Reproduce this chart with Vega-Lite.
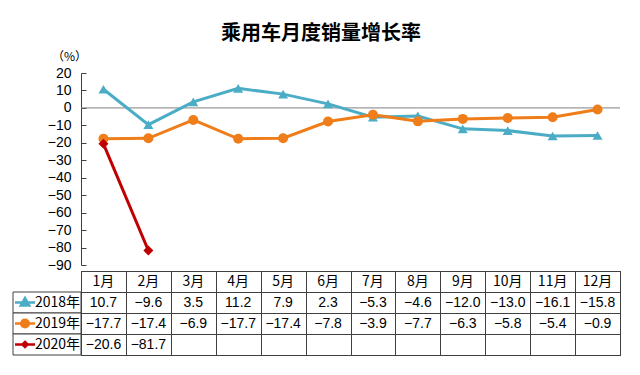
{
  "$schema": "https://vega.github.io/schema/vega-lite/v6.json",
  "padding": {"left": 9, "top": 24, "right": 5, "bottom": 5},
  "title": {"text": "乘用车月度销量增长率", "fontSize": 20, "fontWeight": "bold", "font": "Noto Sans CJK SC", "color": "#000000", "anchor": "middle", "frame": "bounds", "offset": 6, "dx": 6},
  "datasets": {
    "s": [
      {"year": "2018年", "month": "1月", "value": 10.7},
      {"year": "2018年", "month": "2月", "value": -9.6},
      {"year": "2018年", "month": "3月", "value": 3.5},
      {"year": "2018年", "month": "4月", "value": 11.2},
      {"year": "2018年", "month": "5月", "value": 7.9},
      {"year": "2018年", "month": "6月", "value": 2.3},
      {"year": "2018年", "month": "7月", "value": -5.3},
      {"year": "2018年", "month": "8月", "value": -4.6},
      {"year": "2018年", "month": "9月", "value": -12.0},
      {"year": "2018年", "month": "10月", "value": -13.0},
      {"year": "2018年", "month": "11月", "value": -16.1},
      {"year": "2018年", "month": "12月", "value": -15.8},
      {"year": "2019年", "month": "1月", "value": -17.7},
      {"year": "2019年", "month": "2月", "value": -17.4},
      {"year": "2019年", "month": "3月", "value": -6.9},
      {"year": "2019年", "month": "4月", "value": -17.7},
      {"year": "2019年", "month": "5月", "value": -17.4},
      {"year": "2019年", "month": "6月", "value": -7.8},
      {"year": "2019年", "month": "7月", "value": -3.9},
      {"year": "2019年", "month": "8月", "value": -7.7},
      {"year": "2019年", "month": "9月", "value": -6.3},
      {"year": "2019年", "month": "10月", "value": -5.8},
      {"year": "2019年", "month": "11月", "value": -5.4},
      {"year": "2019年", "month": "12月", "value": -0.9},
      {"year": "2020年", "month": "1月", "value": -20.6},
      {"year": "2020年", "month": "2月", "value": -81.7}
    ],
    "m": [
      {"month": "1月"}, {"month": "2月"}, {"month": "3月"}, {"month": "4月"},
      {"month": "5月"}, {"month": "6月"}, {"month": "7月"}, {"month": "8月"},
      {"month": "9月"}, {"month": "10月"}, {"month": "11月"}, {"month": "12月"}
    ],
    "y": [{"year": "2018年"}, {"year": "2019年"}, {"year": "2020年"}]
  },
  "vconcat": [
    {
      "width": 539,
      "height": 192,
      "layer": [
        {
          "data": {"values": [{}]},
          "mark": {"type": "rule", "color": "#808080", "strokeWidth": 1},
          "encoding": {
            "y": {"datum": 0, "type": "quantitative", "scale": {"domain": [-90, 20], "nice": false, "zero": false},
              "axis": {"title": "（%）", "values": [20, 10, 0, -10, -20, -30, -40, -50, -60, -70, -80, -90]}}
          }
        },
        {
          "data": {"name": "s"},
          "encoding": {
            "x": {"field": "month", "type": "ordinal", "scale": {"type": "band", "domain": ["1月","2月","3月","4月","5月","6月","7月","8月","9月","10月","11月","12月"], "paddingInner": 0, "paddingOuter": 0}, "axis": null},
            "y": {"field": "value", "type": "quantitative", "scale": {"domain": [-90, 20], "nice": false, "zero": false},
              "axis": {"title": "（%）", "values": [20, 10, 0, -10, -20, -30, -40, -50, -60, -70, -80, -90]}},
            "color": {"field": "year", "type": "nominal", "scale": {"domain": ["2018年", "2019年", "2020年"], "range": ["#4bacc6", "#ee7d1a", "#c00000"]}, "legend": null}
          },
          "layer": [
            {"mark": {"type": "line", "strokeWidth": 3}},
            {
              "mark": {"type": "point", "filled": true, "opacity": 1, "size": 100},
              "encoding": {
                "shape": {"field": "year", "type": "nominal", "scale": {"domain": ["2018年", "2019年", "2020年"], "range": ["triangle-up", "circle", "diamond"]}, "legend": null}
              }
            }
          ]
        }
      ]
    },
    {
      "width": 539,
      "height": 84,
      "view": {"stroke": "#404040", "strokeWidth": 1},
      "layer": [
        {
          "data": {"name": "m"},
          "mark": {"type": "text", "fontSize": 14, "font": "Noto Sans CJK SC", "color": "#000000"},
          "encoding": {
            "x": {"field": "month", "type": "ordinal", "scale": {"type": "band", "domain": ["1月","2月","3月","4月","5月","6月","7月","8月","9月","10月","11月","12月"], "paddingInner": 0, "paddingOuter": 0},
              "axis": {"grid": true, "tickBand": "extent", "labels": false, "ticks": false, "domain": false, "title": null, "gridColor": "#404040", "gridOpacity": 1, "gridWidth": 1}},
            "y": {"datum": "月份", "type": "nominal", "scale": {"type": "band", "domain": ["月份", "2018年", "2019年", "2020年"], "paddingInner": 0, "paddingOuter": 0},
              "axis": {"grid": true, "tickBand": "extent", "labels": false, "ticks": false, "domain": false, "title": null, "gridColor": "#404040", "gridOpacity": 1, "gridWidth": 1}},
            "text": {"field": "month"}
          }
        },
        {
          "data": {"name": "s"},
          "mark": {"type": "text", "fontSize": 14, "font": "Liberation Sans", "color": "#000000"},
          "encoding": {
            "x": {"field": "month", "type": "ordinal", "scale": {"type": "band", "domain": ["1月","2月","3月","4月","5月","6月","7月","8月","9月","10月","11月","12月"], "paddingInner": 0, "paddingOuter": 0},
              "axis": {"grid": true, "tickBand": "extent", "labels": false, "ticks": false, "domain": false, "title": null, "gridColor": "#404040", "gridOpacity": 1, "gridWidth": 1}},
            "y": {"field": "year", "type": "nominal", "scale": {"type": "band", "domain": ["月份", "2018年", "2019年", "2020年"], "paddingInner": 0, "paddingOuter": 0},
              "axis": {"grid": true, "tickBand": "extent", "labels": false, "ticks": false, "domain": false, "title": null, "gridColor": "#404040", "gridOpacity": 1, "gridWidth": 1}},
            "text": {"field": "value", "type": "quantitative", "format": ".1f"}
          }
        },
        {
          "data": {"name": "y"},
          "encoding": {
            "x": {"datum": "图例", "type": "nominal", "scale": {"type": "band", "domain": ["图例"], "range": [-68, 0], "paddingInner": 0, "paddingOuter": 0}, "axis": null},
            "y": {"field": "year", "type": "nominal", "scale": {"type": "band", "domain": ["月份", "2018年", "2019年", "2020年"], "paddingInner": 0, "paddingOuter": 0},
              "axis": {"grid": true, "tickBand": "extent", "labels": false, "ticks": false, "domain": false, "title": null, "gridColor": "#404040", "gridOpacity": 1, "gridWidth": 1}}
          },
          "layer": [
            {"mark": {"type": "rect", "fill": "#ffffff", "stroke": "#404040", "strokeWidth": 1}},
            {"mark": {"type": "text", "align": "right", "xOffset": 33, "fontSize": 14, "font": "Noto Sans CJK SC", "color": "#000000"}, "encoding": {"text": {"field": "year"}}},
            {
              "mark": {"type": "point", "filled": true, "opacity": 1, "size": 400, "strokeWidth": 2.5, "xOffset": -22},
              "encoding": {
                "shape": {"field": "year", "type": "nominal", "scale": {"domain": ["2018年", "2019年", "2020年"], "range": ["M-1,0H1M0,-0.45L0.42,0.3L-0.42,0.3Z", "M-1,0H1M0.38,0A0.38,0.38,0,1,1,-0.38,0A0.38,0.38,0,1,1,0.38,0Z", "M-1,0H1M0,-0.26L0.26,0L0,0.26L-0.26,0Z"]}, "legend": null},
                "color": {"field": "year", "type": "nominal", "scale": {"domain": ["2018年", "2019年", "2020年"], "range": ["#4bacc6", "#ee7d1a", "#c00000"]}, "legend": null},
                "stroke": {"field": "year", "type": "nominal", "scale": {"domain": ["2018年", "2019年", "2020年"], "range": ["#4bacc6", "#ee7d1a", "#c00000"]}, "legend": null}
              }
            }
          ]
        }
      ],
      "resolve": {"scale": {"x": "independent"}}
    }
  ],
  "spacing": 6,
  "bounds": "flush",
  "resolve": {"scale": {"x": "independent", "y": "independent", "shape": "independent", "color": "shared", "stroke": "shared"}},
  "config": {
    "view": {"stroke": null},
    "axisQuantitative": {
      "grid": false,
      "domainColor": "#404040",
      "tickColor": "#404040",
      "tickSize": -5,
      "labelPadding": 15,
      "labelFontSize": 14,
      "labelColor": "#000000",
      "labelFont": "Liberation Sans",
      "titleAngle": 0,
      "titleX": -12,
      "titleY": -17,
      "titleAlign": "center",
      "titleBaseline": "middle",
      "titleFontWeight": "normal",
      "titleFontSize": 12,
      "titleColor": "#000000",
      "titleFont": "Noto Sans CJK SC"
    }
  }
}
